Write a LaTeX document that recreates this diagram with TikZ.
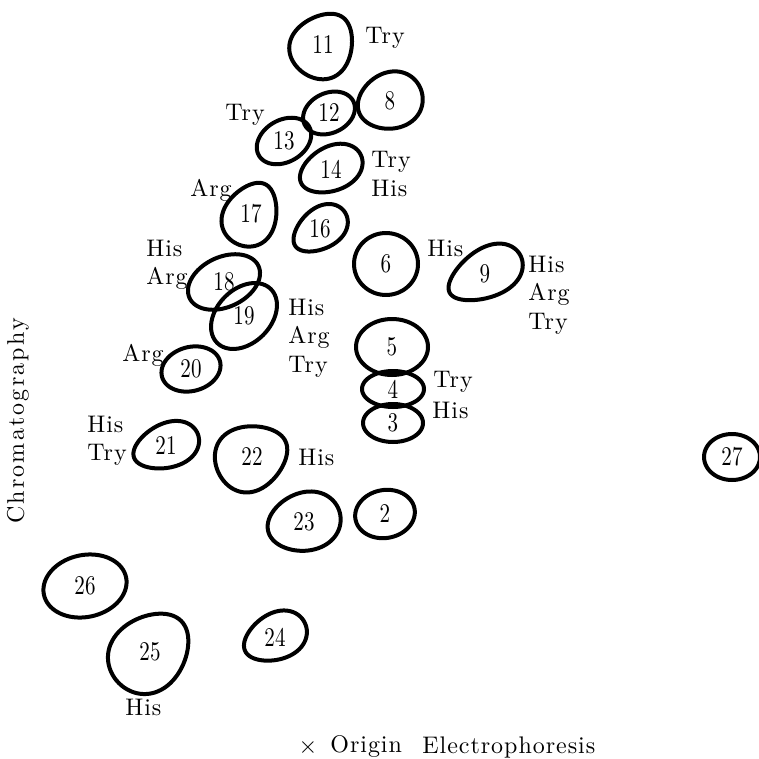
\documentclass[tikz,border=0pt]{standalone}
\usepackage{fontspec}
\setmainfont{lmroman10-regular.otf}
\tikzset{
 blobline/.style={line width=2pt, line join=round},
 num/.style={inner sep=0pt, font=\fontsize{13.5}{13.5}\selectfont},
 lab/.style={inner sep=0pt, anchor=west, align=left, font=\fontsize{12}{14.25}\selectfont\addfontfeature{LetterSpace=4}},
 axis/.style={inner sep=0pt, font=\fontsize{12}{14}\selectfont\addfontfeature{LetterSpace=9}},
 axisb/.style={inner sep=0pt, font=\fontsize{12}{14}\selectfont\addfontfeature{LetterSpace=4}},
}
% name, x, y, rx, ry, angle, egg factor, text
\newcommand\blob[8]{%
 \draw[blobline, shift={(#2,-#3)}, rotate=#6] plot[domain=0:355, samples=72, smooth cycle] ({#4*cos(\x)},{#5*sin(\x)*(1+#7*cos(\x))});
 \node[num] (#1) at (#2,-#3) {\scalebox{0.78}[1]{#8}};
}
\begin{document}
\begin{tikzpicture}[x=0.5pt,y=0.5pt]
\useasboundingbox (0,0) rectangle (759,-759);
\blob{b11}{323}{45}{34}{30}{55}{-0.2}{11}
\blob{b12}{329}{113}{27}{20}{25}{0}{12}
\blob{b8}{390}{101}{33}{28}{20}{0.1}{8}
\blob{b13}{284}{141}{29}{21}{30}{0}{13}
\blob{b14}{331}{169}{33}{22}{25}{0.1}{14}
\blob{b17}{251}{214}{33}{26}{65}{-0.2}{17}
\blob{b16}{320}{229}{30}{20}{35}{0.15}{16}
\blob{b6}{386}{264}{32}{31}{0}{0}{6}
\blob{b9}{485}{274}{40}{24}{28}{0.2}{9}
\blob{b5}{392}{347}{36}{28}{0}{0}{5}
\blob{b4}{393}{389}{31}{18}{0}{0}{4}
\blob{b3}{393}{423}{30}{19}{0}{0}{3}
\blob{b18}{224}{282}{38}{25}{25}{0}{18}
\blob{b19}{244}{316}{38}{27}{45}{0}{19}
\blob{b20}{191}{369}{30}{22}{15}{0}{20}
\blob{b21}{166}{446}{34}{22}{20}{0.15}{21}
\blob{b22}{252}{457}{37}{32}{25}{-0.2}{22}
\blob{b23}{304}{522}{37}{29}{15}{0.1}{23}
\blob{b2}{385}{514}{30}{24}{10}{0}{2}
\blob{b26}{85}{586}{42}{31}{12}{0}{26}
\blob{b25}{150}{652}{44}{36}{45}{-0.15}{25}
\blob{b24}{275}{637}{33}{23}{25}{0.15}{24}
\blob{b27}{732}{457}{28}{23}{0}{0}{27}
\node[lab] (l11) at (365,-38) {Try};
\node[lab] (l13) at (225,-115) {Try};
\node[lab] (l14) at (371,-174) {Try\\His};
\node[lab] (l17) at (190,-190) {Arg};
\node[lab] (l6) at (427,-248) {His};
\node[lab] (l9) at (528,-295) {His\\Arg\\Try};
\node[lab] (l4) at (433,-382) {Try};
\node[lab] (l3) at (432,-410) {His};
\node[lab] (l18) at (146,-265) {His\\Arg};
\node[lab] (l19) at (288,-338) {His\\Arg\\Try};
\node[lab] (l20) at (122,-355) {Arg};
\node[lab] (l21) at (87,-441) {His\\Try};
\node[lab] (l22) at (298,-457) {His};
\node[lab] (l25) at (125,-707) {His};
\node[axis, rotate=90] (chrom) at (18,-421) {Chromatography};
\node[inner sep=0pt, font=\fontsize{12}{12}\selectfont] (x) at (308,-747) {$\times$};
\node[axisb, anchor=west] (origin) at (330,-747) {Origin};
\node[axisb, anchor=west] (elec) at (422,-747) {Electrophoresis};
\end{tikzpicture}
\end{document}
